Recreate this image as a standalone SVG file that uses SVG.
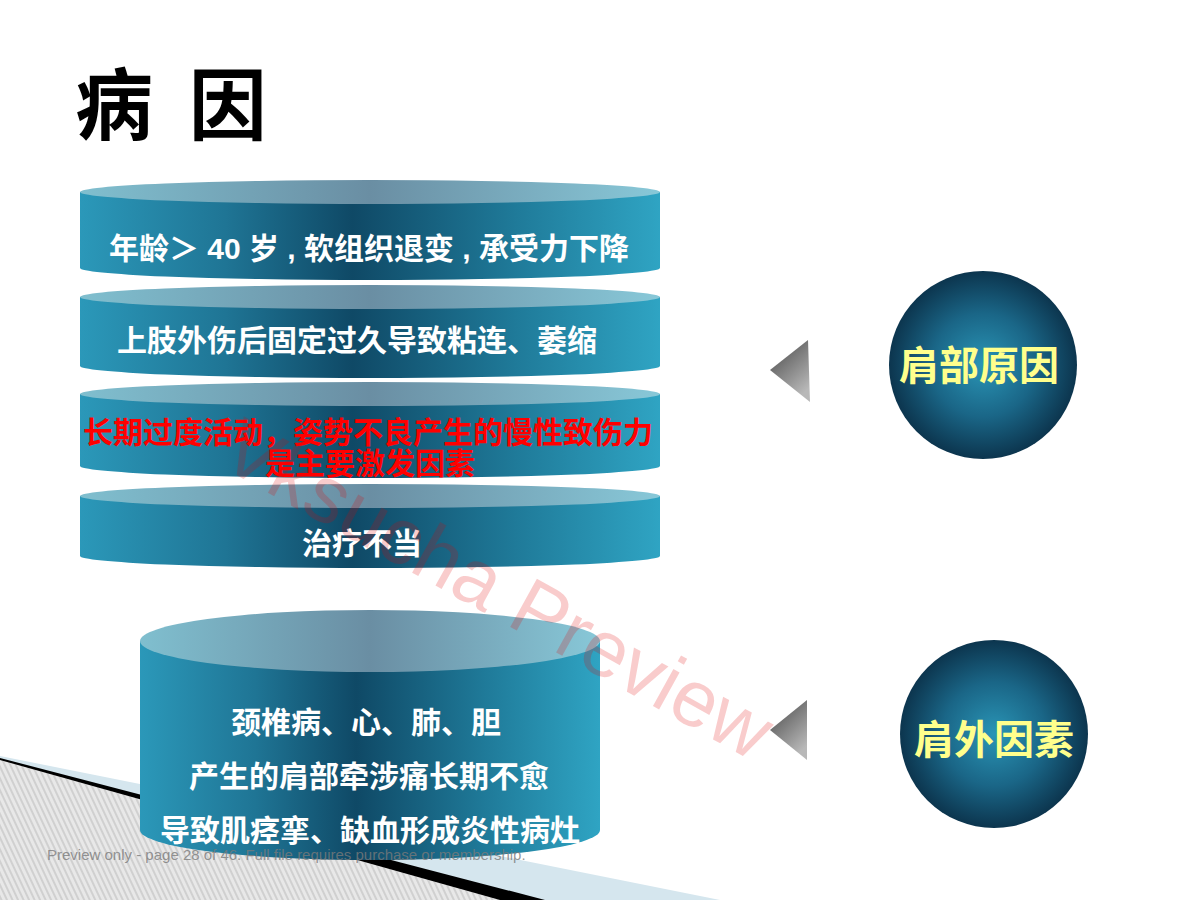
<svg xmlns="http://www.w3.org/2000/svg" width="1200" height="900" viewBox="0 0 1200 900">
<defs>
<linearGradient id="body" x1="0" y1="0" x2="1" y2="0">
<stop offset="0" stop-color="#2b98b9"/>
<stop offset="0.25" stop-color="#1f7595"/>
<stop offset="0.47" stop-color="#0f4966"/>
<stop offset="0.75" stop-color="#1f7a99"/>
<stop offset="1" stop-color="#2fa4c3"/>
</linearGradient>
<linearGradient id="top" x1="0" y1="0" x2="1" y2="0">
<stop offset="0" stop-color="#80bfcf"/>
<stop offset="0.5" stop-color="#6a8ea3"/>
<stop offset="1" stop-color="#88c8d8"/>
</linearGradient>
<radialGradient id="ball" cx="0.5" cy="0.5" r="0.5">
<stop offset="0" stop-color="#2a95b6"/>
<stop offset="0.55" stop-color="#1a6687"/>
<stop offset="1" stop-color="#0c354e"/>
</radialGradient>
<linearGradient id="tri" x1="0" y1="0" x2="0.6" y2="1">
<stop offset="0" stop-color="#444"/>
<stop offset="1" stop-color="#b8b8b8"/>
</linearGradient>
<pattern id="hatch" patternUnits="userSpaceOnUse" width="5" height="5" patternTransform="rotate(-25)">
<rect width="5" height="5" fill="#e8e8e8"/>
<line x1="1" y1="0" x2="1" y2="5" stroke="#b8b8b8" stroke-width="1"/>
</pattern>
<style>
.t{font-family:"Liberation Sans","Noto Sans CJK SC",sans-serif;font-weight:bold;}
.w{fill:#ffffff;font-size:30px;}
.r{fill:#ff0000;font-size:30px;}
.y{fill:#ffff8c;font-size:40px;}
</style>
</defs>
<rect width="1200" height="900" fill="#ffffff"/>

<g id="decor">
<polygon points="0,756 720,900 0,900" fill="#d5e6ee"/>
<polygon points="0,758 545,900 0,900" fill="#000000"/>
<polygon points="0,760 500,900 0,900" fill="url(#hatch)"/>
</g>

<text id="title" class="t" x="75" y="134" font-size="78" word-spacing="14" fill="#000">病 因</text>

<g id="disk1">
<path d="M80,192 L80,268 A290,12 0 0 0 660,268 L660,192 Z" fill="url(#body)"/>
<ellipse cx="370" cy="192" rx="290" ry="12" fill="url(#top)"/>
<text class="t w" x="369" y="259" text-anchor="middle">年龄＞ 40 岁 , 软组织退变 , 承受力下降</text>
</g>
<g id="disk2">
<path d="M80,297 L80,366 A290,12 0 0 0 660,366 L660,297 Z" fill="url(#body)"/>
<ellipse cx="370" cy="297" rx="290" ry="12" fill="url(#top)"/>
<text class="t w" x="117" y="351">上肢外伤后固定过久导致粘连、萎缩</text>
</g>
<g id="disk3">
<path d="M80,394 L80,466 A290,12 0 0 0 660,466 L660,394 Z" fill="url(#body)"/>
<ellipse cx="370" cy="394" rx="290" ry="12" fill="url(#top)"/>
<text class="t r" x="368" y="443" text-anchor="middle">长期过度活动，姿势不良产生的慢性致伤力</text>
<text class="t r" x="370" y="474" text-anchor="middle">是主要激发因素</text>
</g>
<g id="disk4">
<path d="M80,496 L80,556 A290,12 0 0 0 660,556 L660,496 Z" fill="url(#body)"/>
<ellipse cx="370" cy="496" rx="290" ry="12" fill="url(#top)"/>
<text class="t w" x="362" y="554" text-anchor="middle">治疗不当</text>
</g>

<g id="cylinder">
<path d="M140,641 L140,830 A230,30 0 0 0 600,830 L600,641 Z" fill="url(#body)"/>
<ellipse cx="370" cy="641" rx="230" ry="31" fill="url(#top)"/>
<text class="t w" x="366" y="733" text-anchor="middle">颈椎病、心、肺、胆</text>
<text class="t w" x="369" y="787" text-anchor="middle">产生的肩部牵涉痛长期不愈</text>
<text class="t w" x="370" y="841" text-anchor="middle">导致肌痉挛、缺血形成炎性病灶</text>
</g>

<g id="connectors">
<polygon points="770,370 808,340 810,402" fill="url(#tri)"/>
<polygon points="770,730 807,700 807,760" fill="url(#tri)"/>
</g>

<g id="ball1">
<circle cx="983" cy="365" r="94" fill="url(#ball)"/>
<text class="t y" x="979" y="380" text-anchor="middle">肩部原因</text>
</g>
<g id="ball2">
<circle cx="994" cy="734" r="94" fill="url(#ball)"/>
<text class="t y" x="994" y="754" text-anchor="middle">肩外因素</text>
</g>

<text id="watermark" transform="translate(485,613) rotate(29)" text-anchor="middle" font-family="Liberation Sans, sans-serif" font-size="80" fill="#e00000" fill-opacity="0.2">Vksucha Preview</text>

<text id="footer" x="47" y="860" font-family="Liberation Sans, sans-serif" font-size="15" fill="#7a7a7a" fill-opacity="0.8">Preview only - page 28 of 46. Full file requires purchase or membership.</text>
</svg>
